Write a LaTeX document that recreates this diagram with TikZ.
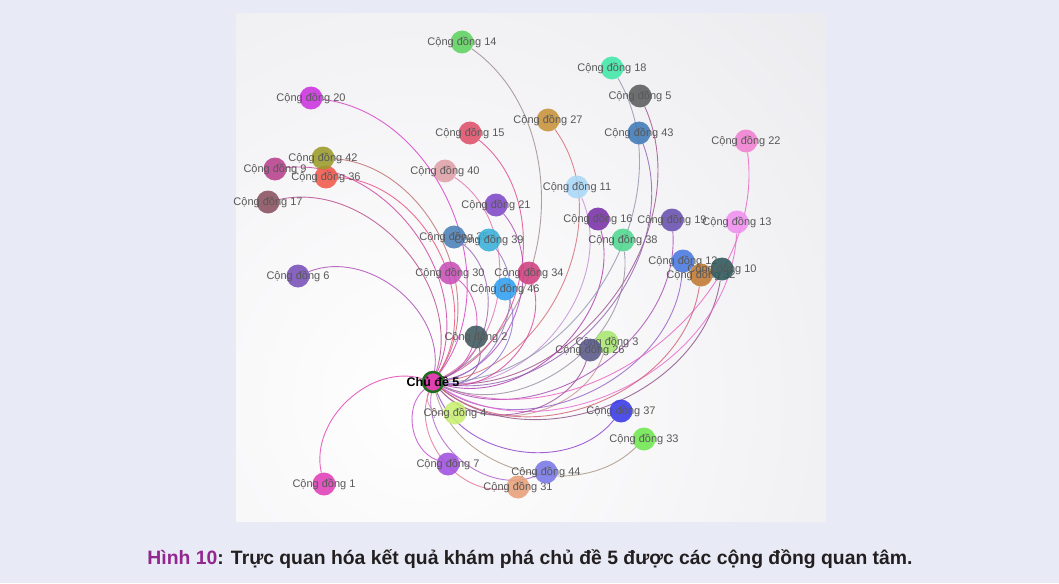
\documentclass[tikz,border=0pt]{standalone}
\usepackage{fontspec}
\setmainfont{Liberation Sans}
\usepackage{tikz}
\usetikzlibrary{backgrounds}
\definecolor{pagebg}{RGB}{232,234,246}
\definecolor{panelgray}{RGB}{224,223,229}
\definecolor{labelgray}{RGB}{88,88,88}
\definecolor{captionpurple}{RGB}{146,39,143}
\definecolor{captionblack}{RGB}{35,31,32}
\definecolor{topicpink}{HTML}{E040B0}
\definecolor{topicring}{HTML}{1E6E1E}
\definecolor{c1}{HTML}{E040B8}
\definecolor{c2}{HTML}{3E5A5E}
\definecolor{c3}{HTML}{A8E870}
\definecolor{c4}{HTML}{C8F070}
\definecolor{c5}{HTML}{5A5C5E}
\definecolor{c6}{HTML}{7850B8}
\definecolor{c7}{HTML}{A050E0}
\definecolor{c9}{HTML}{B8408E}
\definecolor{c10}{HTML}{2E5858}
\definecolor{c11}{HTML}{A8D8F8}
\definecolor{c12}{HTML}{4878E0}
\definecolor{c13}{HTML}{F090F0}
\definecolor{c14}{HTML}{5FD35F}
\definecolor{c15}{HTML}{E0506A}
\definecolor{c16}{HTML}{7830A8}
\definecolor{c17}{HTML}{8A5060}
\definecolor{c18}{HTML}{40E8A8}
\definecolor{c19}{HTML}{6850B0}
\definecolor{c20}{HTML}{CC33E0}
\definecolor{c21}{HTML}{8048C8}
\definecolor{c22}{HTML}{F080D0}
\definecolor{c26}{HTML}{585888}
\definecolor{c27}{HTML}{C8923A}
\definecolor{c30}{HTML}{C850B8}
\definecolor{c31}{HTML}{E8A078}
\definecolor{c32}{HTML}{C07830}
\definecolor{c33}{HTML}{70E850}
\definecolor{c34}{HTML}{D04080}
\definecolor{c35}{HTML}{4A80B8}
\definecolor{c36}{HTML}{F2584A}
\definecolor{c37}{HTML}{3838E8}
\definecolor{c38}{HTML}{50D890}
\definecolor{c39}{HTML}{38B0D8}
\definecolor{c40}{HTML}{E0A0A8}
\definecolor{c42}{HTML}{9A9A2A}
\definecolor{c43}{HTML}{3E7AB8}
\definecolor{c44}{HTML}{7878E8}
\definecolor{c46}{HTML}{30A0F0}
\tikzset{
	comm/.style={
		circle,
		minimum size=23pt,
		inner sep=0pt,
		fill opacity=0.88
	},
	commlabel/.style={
		inner sep=0pt,
		text=labelgray,
		font=\fontsize{11}{13}\selectfont
	},
	topic/.style={
		circle,
		minimum size=20pt,
		inner sep=0pt,
		fill=topicpink,
		draw=topicring,
		line width=2.5pt
	},
	topiclabel/.style={
		inner sep=0pt,
		text=black,
		font=\fontsize{12.5}{14}\selectfont\bfseries
	},
	caption/.style={
		anchor=base,
		inner sep=0pt,
		text=captionblack,
		font=\fontsize{18}{20}\selectfont\bfseries
	},
	every edge/.style={
		draw,
		bend right=60,
		line width=0.9pt,
		draw opacity=0.8
	}
}

\begin{document}
\begin{tikzpicture}[x=1pt, y=-1pt]
	\useasboundingbox (0,0) rectangle (1059,583);

	% topic in the middle
	\node[topic] (t5) at (433,382) {};

	% communities
	\node[comm, fill=c1, label={[commlabel]center:Cộng đồng 1}] (n1) at (324,484) {};
	\node[comm, fill=c2, label={[commlabel]center:Cộng đồng 2}] (n2) at (476,337) {};
	\node[comm, fill=c3, label={[commlabel]center:Cộng đồng 3}] (n3) at (607,342) {};
	\node[comm, fill=c4, label={[commlabel]center:Cộng đồng 4}] (n4) at (455,413) {};
	\node[comm, fill=c5, label={[commlabel]center:Cộng đồng 5}] (n5) at (640,96) {};
	\node[comm, fill=c6, label={[commlabel]center:Cộng đồng 6}] (n6) at (298,276) {};
	\node[comm, fill=c7, label={[commlabel]center:Cộng đồng 7}] (n7) at (448,464) {};
	\node[comm, fill=c9, label={[commlabel]center:Cộng đồng 9}] (n9) at (275,169) {};
	\node[comm, fill=c11, label={[commlabel]center:Cộng đồng 11}] (n11) at (577,187) {};
	\node[comm, fill=c12, label={[commlabel]center:Cộng đồng 12}] (n12) at (683,261) {};
	\node[comm, fill=c32, label={[commlabel]center:Cộng đồng 32}] (n32) at (701,275) {};
	\node[comm, fill=c10, label={[commlabel]center:Cộng đồng 10}] (n10) at (722,269) {};
	\node[comm, fill=c13, label={[commlabel]center:Cộng đồng 13}] (n13) at (737,222) {};
	\node[comm, fill=c14, label={[commlabel]center:Cộng đồng 14}] (n14) at (462,42) {};
	\node[comm, fill=c15, label={[commlabel]center:Cộng đồng 15}] (n15) at (470,133) {};
	\node[comm, fill=c16, label={[commlabel]center:Cộng đồng 16}] (n16) at (598,219) {};
	\node[comm, fill=c17, label={[commlabel]center:Cộng đồng 17}] (n17) at (268,202) {};
	\node[comm, fill=c18, label={[commlabel]center:Cộng đồng 18}] (n18) at (612,68) {};
	\node[comm, fill=c19, label={[commlabel]center:Cộng đồng 19}] (n19) at (672,220) {};
	\node[comm, fill=c20, label={[commlabel]center:Cộng đồng 20}] (n20) at (311,98) {};
	\node[comm, fill=c21, label={[commlabel]center:Cộng đồng 21}] (n21) at (496,205) {};
	\node[comm, fill=c22, label={[commlabel]center:Cộng đồng 22}] (n22) at (746,141) {};
	\node[comm, fill=c26, label={[commlabel]center:Cộng đồng 26}] (n26) at (590,350) {};
	\node[comm, fill=c27, label={[commlabel]center:Cộng đồng 27}] (n27) at (548,120) {};
	\node[comm, fill=c30, label={[commlabel]center:Cộng đồng 30}] (n30) at (450,273) {};
	\node[comm, fill=c31, label={[commlabel]center:Cộng đồng 31}] (n31) at (518,487) {};
	\node[comm, fill=c33, label={[commlabel]center:Cộng đồng 33}] (n33) at (644,439) {};
	\node[comm, fill=c34, label={[commlabel]center:Cộng đồng 34}] (n34) at (529,273) {};
	\node[comm, fill=c35, label={[commlabel]center:Cộng đồng 35}] (n35) at (454,237) {};
	\node[comm, fill=c36, label={[commlabel]center:Cộng đồng 36}] (n36) at (326,177) {};
	\node[comm, fill=c37, label={[commlabel]center:Cộng đồng 37}] (n37) at (621,411) {};
	\node[comm, fill=c38, label={[commlabel]center:Cộng đồng 38}] (n38) at (623,240) {};
	\node[comm, fill=c39, label={[commlabel]center:Cộng đồng 39}] (n39) at (489,240) {};
	\node[comm, fill=c40, label={[commlabel]center:Cộng đồng 40}] (n40) at (445,171) {};
	\node[comm, fill=c42, label={[commlabel]center:Cộng đồng 42}] (n42) at (323,158) {};
	\node[comm, fill=c43, label={[commlabel]center:Cộng đồng 43}] (n43) at (639,133) {};
	\node[comm, fill=c44, label={[commlabel]center:Cộng đồng 44}] (n44) at (546,472) {};
	\node[comm, fill=c46, label={[commlabel]center:Cộng đồng 46}] (n46) at (505,289) {};

	\node[topiclabel] (t5label) at (t5) {Chủ đề 5};

	\node[caption] (cap) at (530,564) {\resizebox{765pt}{!}{{\color{captionpurple}Hình 10}: Trực quan hóa kết quả khám phá chủ đề 5 được các cộng đồng quan tâm.}};

	\begin{scope}[on background layer]
		\fill[pagebg] (0,0) rectangle (1059,583);
		\begin{scope}
			\clip (236,14) rectangle (826,521);
			\shade[inner color=white, outer color=panelgray] (420,400) circle (900);
		\end{scope}
		% links topic -> communities
		\path (t5)
			edge[draw=c1!50!topicpink] (n1)
			edge[draw=c2!50!topicpink] (n2)
			edge[draw=c3!50!topicpink] (n3)
			edge[draw=c4!50!topicpink] (n4)
			edge[draw=c5!50!topicpink] (n5)
			edge[draw=c6!50!topicpink] (n6)
			edge[draw=c7!50!topicpink] (n7)
			edge[draw=c9!50!topicpink] (n9)
			edge[draw=c10!50!topicpink] (n10)
			edge[draw=c11!50!topicpink] (n11)
			edge[draw=c12!50!topicpink] (n12)
			edge[draw=c13!50!topicpink] (n13)
			edge[draw=c14!50!topicpink] (n14)
			edge[draw=c15!50!topicpink] (n15)
			edge[draw=c16!50!topicpink] (n16)
			edge[draw=c17!50!topicpink] (n17)
			edge[draw=c18!50!topicpink] (n18)
			edge[draw=c19!50!topicpink] (n19)
			edge[draw=c20!50!topicpink] (n20)
			edge[draw=c21!50!topicpink] (n21)
			edge[draw=c22!50!topicpink] (n22)
			edge[draw=c26!50!topicpink] (n26)
			edge[draw=c27!50!topicpink] (n27)
			edge[draw=c30!50!topicpink] (n30)
			edge[draw=c31!50!topicpink] (n31)
			edge[draw=c32!50!topicpink] (n32)
			edge[draw=c33!50!topicpink] (n33)
			edge[draw=c34!50!topicpink] (n34)
			edge[draw=c35!50!topicpink] (n35)
			edge[draw=c36!50!topicpink] (n36)
			edge[draw=c37!50!topicpink] (n37)
			edge[draw=c38!50!topicpink] (n38)
			edge[draw=c39!50!topicpink] (n39)
			edge[draw=c40!50!topicpink] (n40)
			edge[draw=c42!50!topicpink] (n42)
			edge[draw=c43!50!topicpink] (n43)
			edge[draw=c44!50!topicpink] (n44)
			edge[draw=c46!50!topicpink] (n46);
	\end{scope}
\end{tikzpicture}
\end{document}
